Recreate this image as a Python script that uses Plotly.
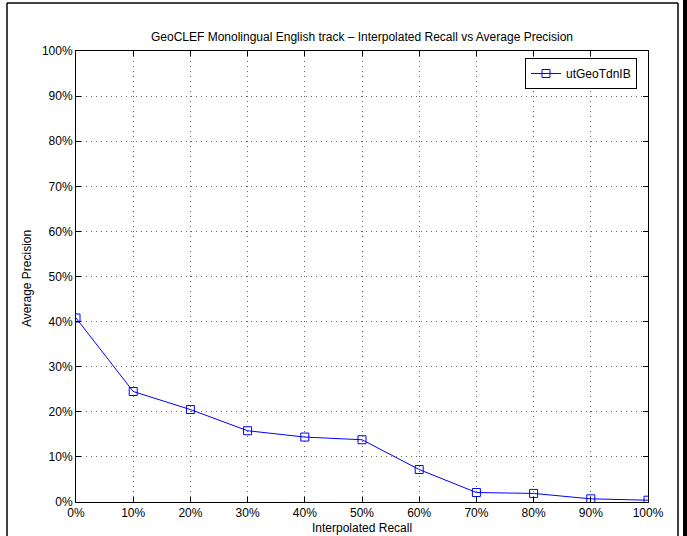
import plotly.graph_objects as go

recall = [0, 10, 20, 30, 40, 50, 60, 70, 80, 90, 100]
precision = [40.8, 24.5, 20.5, 15.8, 14.4, 13.8, 7.2, 2.1, 1.9, 0.7, 0.4]
series_name = "utGeoTdnIB"
tick_vals = [0, 10, 20, 30, 40, 50, 60, 70, 80, 90, 100]
tick_text = [f"{v}%" for v in tick_vals]

fig = go.Figure()
fig.add_trace(go.Scatter(
    x=recall, y=precision, mode="lines+markers", name=series_name,
    line=dict(color="#0000FF", width=1),
    marker=dict(symbol="square-open", size=8, color="#0000FF", line=dict(width=1)),
))

font = "Liberation Sans, Arial, Helvetica, sans-serif"
axis_common = dict(
    range=[0, 100], tickvals=tick_vals, ticktext=tick_text,
    showline=True, linecolor="black", linewidth=1, mirror="ticks",
    ticks="inside", ticklen=5, tickcolor="black",
    showgrid=True, gridcolor="#666666", griddash="1px,4px", gridwidth=1,
    zeroline=False, tickfont=dict(family=font, size=12, color="black"),
    automargin=False,
)

L, R, T, B = 76, 648, 51, 502
W, H = 687, 536
pw, ph = R - L, B - T

def px(x):
    return (x - L) / pw

def py(y):
    return (B - y) / ph

fig.update_layout(
    width=W, height=H,
    margin=dict(l=L, r=W - R, t=T, b=H - B),
    paper_bgcolor="white", plot_bgcolor="white",
    font=dict(family=font, size=12, color="black"),
    title=dict(text="GeoCLEF Monolingual English track \u2013 Interpolated Recall vs Average Precision",
               x=((L + R) / 2) / W, xanchor="center", y=1 - 37 / H, yanchor="middle",
               font=dict(family=font, size=12, color="black")),
    xaxis=dict(**axis_common),
    yaxis=dict(**axis_common),
    showlegend=True,
    legend=dict(x=px(637), y=py(58), xanchor="right", yanchor="top",
                bgcolor="white", bordercolor="black", borderwidth=1,
                font=dict(family=font, size=12, color="black"),
                tracegroupgap=0),
    annotations=[
        dict(text="Interpolated Recall", xref="paper", yref="paper",
             x=0.5, y=py(528), xanchor="center", yanchor="middle", showarrow=False,
             font=dict(family=font, size=12, color="black")),
        dict(text="Average Precision", xref="paper", yref="paper",
             x=px(27), y=py(279), xanchor="center", yanchor="middle", showarrow=False,
             textangle=-90, font=dict(family=font, size=12, color="black")),
    ],
    shapes=[
        dict(type="line", xref="paper", yref="paper", x0=px(7), x1=px(7), y0=py(545), y1=py(3),
             line=dict(color="black", width=1.5)),
        dict(type="line", xref="paper", yref="paper", x0=px(7), x1=px(678), y0=py(3), y1=py(3),
             line=dict(color="black", width=1.5)),
        dict(type="line", xref="paper", yref="paper", x0=px(678), x1=px(678), y0=py(545), y1=py(3),
             line=dict(color="black", width=1.5)),
        dict(type="rect", xref="paper", yref="paper", x0=px(683), x1=px(690), y0=py(545), y1=py(-5),
             line=dict(width=0), fillcolor="black"),
    ],
)

fig.write_html(
    "out.html",
    config={"displayModeBar": False},
    post_script="document.body.style.margin='0';document.body.style.overflow='hidden';",
)
